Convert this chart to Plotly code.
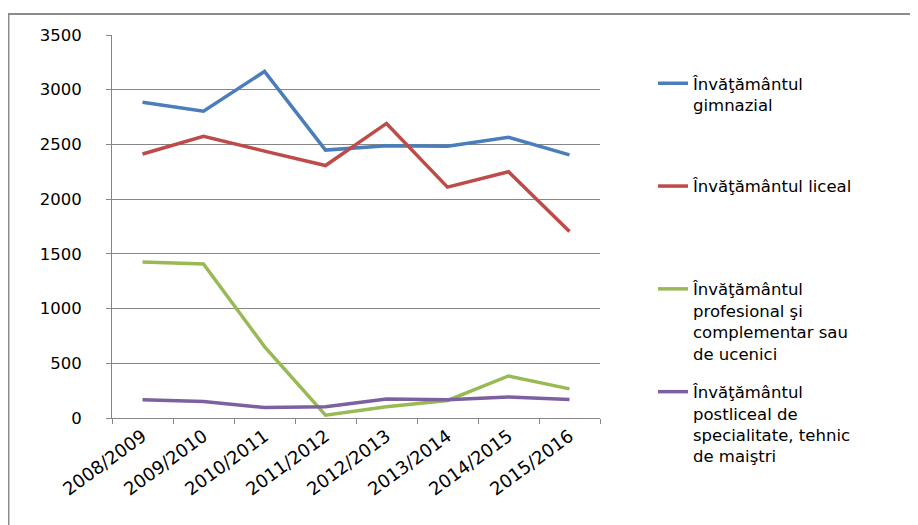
import plotly.graph_objects as go

categories = ["2008/2009", "2009/2010", "2010/2011", "2011/2012",
              "2012/2013", "2013/2014", "2014/2015", "2015/2016"]
gimnazial = [2885, 2803, 3167, 2448, 2488, 2483, 2565, 2405]
liceal = [2413, 2574, 2439, 2307, 2692, 2110, 2250, 1705]
profesional = [1426, 1408, 652, 25, 103, 160, 384, 266]
postliceal = [167, 150, 95, 103, 174, 166, 192, 168]

names = [
    "Învăţământul<br>gimnazial",
    "Învăţământul liceal",
    "Învăţământul<br>profesional şi<br>complementar sau<br>de ucenici",
    "Învăţământul<br>postliceal de<br>specialitate, tehnic<br>de maiştri",
]
colors = ["#4A7EBB", "#BE4B48", "#98B954", "#7D60A0"]
series = [gimnazial, liceal, profesional, postliceal]
pad_lines = [2, 3, 0, 0]

fig = go.Figure()
for i, (nm, vals, col) in enumerate(zip(names, series, colors)):
    label = nm + "<br> " * pad_lines[i]
    fig.add_trace(go.Scatter(
        x=categories, y=vals, mode="lines", name=label,
        line=dict(color=col, width=3.5),
        legendgroup=f"g{i}",
    ))

# page body has an 8px margin; figure sized to the visible window area
W, H = 910, 517
L, T, R, B = 104, 27, 318, 107
PW, PH = W - L - R, H - T - B

font_family = "DejaVu Sans"
fig.update_layout(
    width=W, height=H,
    margin=dict(l=L, r=R, t=T, b=B),
    paper_bgcolor="white", plot_bgcolor="white",
    font=dict(family=font_family, size=16, color="#000000"),
    showlegend=True,
    legend=dict(
        x=1.1086, xanchor="left", y=0.919, yanchor="top",
        font=dict(family=font_family, size=16.5, color="#000000"),
        valign="top", tracegroupgap=14, maxheight=500,
        bgcolor="rgba(0,0,0,0)",
    ),
    xaxis=dict(
        type="category", range=[-0.5, 7.5],
        tickson="boundaries", ticks="outside", ticklen=5,
        tickcolor="#868686", showline=True, linecolor="#868686",
        linewidth=1, showgrid=False, tickangle=-36,
        tickfont=dict(family=font_family, size=18, color="#000000"),
    ),
    yaxis=dict(
        range=[0, 3500], tickvals=[0, 500, 1000, 1500, 2000, 2500, 3000, 3500],
        ticks="outside", ticklen=5, tickcolor="#868686",
        showline=True, linecolor="#868686", linewidth=1,
        showgrid=True, gridcolor="#868686", gridwidth=1,
        zeroline=False, ticklabelstandoff=21,
        tickfont=dict(family=font_family, size=16.5, color="#000000"),
    ),
    shapes=[dict(
        type="rect", xref="paper", yref="paper",
        x0=(0.5 - L) / PW, x1=(W + 20 - L) / PW,
        y0=-(H + 20 - (H - B)) / PH, y1=1 + (T - 6) / PH,
        line=dict(color="#8C8C8C", width=2), layer="below",
    )],
)

fig.write_html("out.html")
